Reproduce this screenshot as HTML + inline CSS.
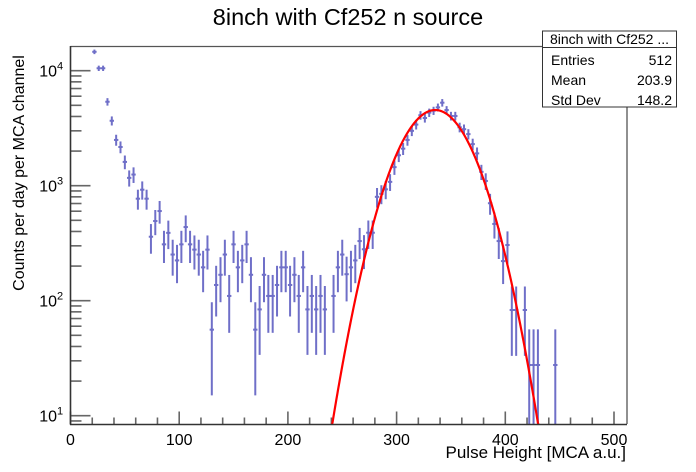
<!DOCTYPE html>
<html><head><meta charset="utf-8"><style>
body{margin:0;background:#fff;}
svg{display:block;font-family:"Liberation Sans",sans-serif;}
</style></head><body>
<svg id="chart" width="696" height="472" viewBox="0 0 696 472">
<rect x="0" y="0" width="696" height="472" fill="#fff"/>
<text x="348" y="25" font-size="23.5" text-anchor="middle">8inch with Cf252 n source</text>
<g id="ticks"></g>
<g id="marks"></g>
<g id="fit"></g>
<line x1="70.5" y1="46.5" x2="627" y2="46.5" stroke="#555" stroke-width="1.3"/>
<line x1="627" y1="46.5" x2="627" y2="424" stroke="#555" stroke-width="1.3"/>
<line x1="70.5" y1="46" x2="70.5" y2="424.5" stroke="#333" stroke-width="1.6"/>
<line x1="70" y1="424.5" x2="627" y2="424.5" stroke="#333" stroke-width="1.6"/>
<text x="626" y="458" font-size="17" text-anchor="end">Pulse Height [MCA a.u.]</text>
<text transform="translate(24,173) rotate(-90)" font-size="16" text-anchor="middle">Counts per day per MCA channel</text>
<g>
<rect x="542.5" y="31" width="134" height="76" fill="#fff" stroke="#333" stroke-width="1"/>
<line x1="542.5" y1="47.5" x2="676.5" y2="47.5" stroke="#333" stroke-width="1"/>
<text x="609.5" y="44" font-size="14" text-anchor="middle">8inch with Cf252 ...</text>
<text x="551" y="65" font-size="14">Entries</text>
<text x="672" y="65" font-size="14" text-anchor="end">512</text>
<text x="551" y="85" font-size="14">Mean</text>
<text x="672" y="85" font-size="14" text-anchor="end">203.9</text>
<text x="551" y="105" font-size="14">Std Dev</text>
<text x="672" y="105" font-size="14" text-anchor="end">148.2</text>
</g>
</svg>
<script>
const binCenters=[22,26,30,34,38,42,46,50,54,58,62,66,70,74,78,82,86,90,94,98,102,106,110,114,118,122,126,130,134,138,142,146,150,154,158,162,166,170,174,178,182,186,190,194,198,202,206,210,214,218,222,226,230,234,242,246,250,254,258,262,266,270,274,278,282,286,290,294,298,302,306,310,314,318,322,326,330,334,338,342,346,350,354,358,362,366,370,374,378,382,386,390,394,398,402,406,410,418,422,426,430,446];
const counts=[14600,10500,10500,5370,3670,2500,2170,1610,1170,1250,771,923,771,360,493,602,309,389,252,224,309,437,309,278,252,195,278,56,137,168,252,110,309,195,224,309,168,56,84,168,110,110,137,195,195,137,168,110,195,84,110,84,110,84,110,195,252,170,195,224,330,280,390,390,800,850,930,1080,1450,1840,2100,2500,3000,3400,4100,3880,4320,4490,4800,5270,4550,4040,4040,3220,3100,2810,2300,1910,1320,1100,704,465,330,221,305,83,83,83,27.6,27.6,27.6,27.6];
const xTickLabels=[0,100,200,300,400,500];
const yDecades=[1,2,3,4];
const fitAmp=4550, fitMean=335.5, fitSigma=26.7;
const binWidth=4;
const errScale=30;

const NS="http://www.w3.org/2000/svg";
const X0=70.5, XPX=1.087;
const YREF=415.7, DEC=115, YBOT=424.5, YTOP=46.5;
function xs(v){return X0+v*XPX;}
function ys(v){return YREF-(Math.log10(v)-1)*DEC;}
function mk(tag,attrs,parent){const e=document.createElementNS(NS,tag);for(const k in attrs)e.setAttribute(k,attrs[k]);parent.appendChild(e);return e;}
const ticks=document.getElementById('ticks');
const marks=document.getElementById('marks');
const fit=document.getElementById('fit');
for(let v=0;v<=510;v+=20){
  const major=v%100===0;
  const t=mk('line',{x1:xs(v),x2:xs(v),y1:YBOT,y2:YBOT-(major?13:7),stroke:'#666','stroke-width':1.6},ticks);
  
  
}
xTickLabels.forEach(v=>{
  const t=mk('text',{x:xs(v),y:445,'font-size':16,'text-anchor':'middle'},ticks);
  t.textContent=v;
  
  
});
for(let d=0;d<=4;d++){
  for(let m=1;m<=9;m++){
    const v=m*Math.pow(10,d);
    const y=ys(v);
    if(y>YBOT||y<YTOP)continue;
    const t=mk('line',{x1:X0,x2:X0+(m===1?20:11),y1:y,y2:y,stroke:'#666','stroke-width':1.6},ticks);
    
    
  }
}
yDecades.forEach(d=>{
  const y=ys(Math.pow(10,d));
  const t=mk('text',{x:57,y:y+6,'font-size':16,'text-anchor':'end'},ticks);
  t.textContent='10';
  
  
  const s=mk('text',{x:57,y:y-1,'font-size':11},ticks);
  s.textContent=String(d);
  
  
});
const col='#6f6fc8';
binCenters.forEach((c,i)=>{
  const v=counts[i];
  const err=Math.sqrt(errScale*v);
  const g=mk('g',{},marks);
  
  
  const hi=ys(v+err);
  const lo=v-err>0?Math.min(ys(v-err),YBOT):YBOT;
  const x=xs(c), y=ys(v);
  mk('line',{x1:x,x2:x,y1:Math.max(hi,YTOP),y2:lo,stroke:col,'stroke-width':2},g);
  mk('line',{x1:xs(c-binWidth/2),x2:xs(c+binWidth/2),y1:y,y2:y,stroke:col,'stroke-width':2},g);
});
let d='';
for(let x=200;x<=470;x+=0.5){
  const v=fitAmp*Math.exp(-0.5*Math.pow((x-fitMean)/fitSigma,2));
  if(v<8)continue;
  const py=Math.min(ys(v),YBOT);
  d+=(d?'L':'M')+xs(x).toFixed(2)+','+py.toFixed(2);
}
const p=mk('path',{d:d,fill:'none',stroke:'#f00','stroke-width':2.2},fit);


</script>
</body></html>
